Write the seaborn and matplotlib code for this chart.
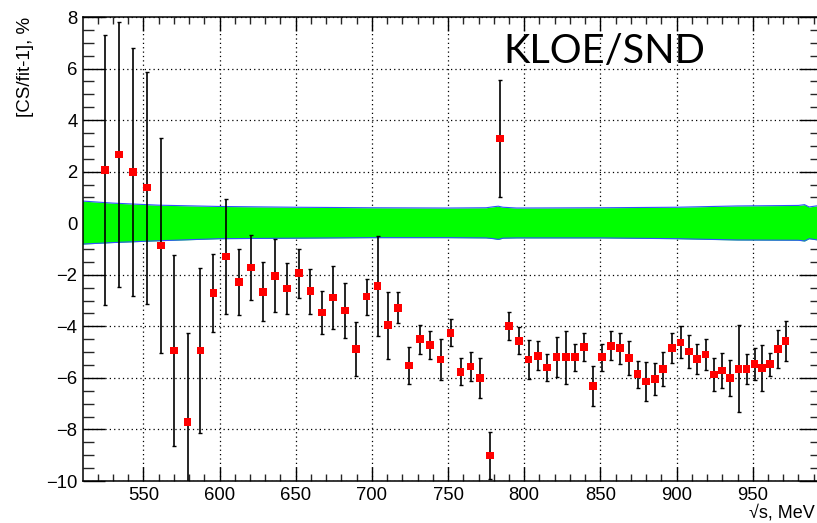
import numpy as np
import pandas as pd
import matplotlib
matplotlib.use("Agg")
import matplotlib.pyplot as plt
import seaborn as sns
from matplotlib.ticker import MultipleLocator

# ---- data ----
energy = [524.9, 534.1, 543.4, 552.4, 561.4, 570.1, 579.1, 587.4, 596.0, 604.1,
          612.6, 620.5, 628.7, 636.6, 644.3, 652.2, 659.6, 667.1, 674.3, 682.2,
          689.4, 696.6, 703.8, 710.4, 717.3, 724.5, 731.6, 738.3, 745.1, 751.7,
          758.3, 764.8, 771.1, 777.7, 784.3, 790.2, 796.5, 802.9, 809.0, 815.1,
          821.3, 827.4, 833.5, 839.4, 845.3, 851.2, 857.1, 863.0, 868.7, 874.4,
          880.0, 885.8, 891.2, 896.9, 902.6, 908.1, 913.5, 919.0, 924.5, 929.7,
          935.2, 940.7, 946.0, 951.2, 956.2, 961.4, 966.5, 971.6]
deviation = [2.06, 2.66, 1.99, 1.38, -0.86, -4.94, -7.72, -4.94, -2.71, -1.29,
             -2.27, -1.72, -2.66, -2.04, -2.53, -1.94, -2.64, -3.46, -2.88, -3.39,
             -4.88, -2.85, -2.43, -3.96, -3.28, -5.52, -4.50, -4.72, -5.29, -4.25,
             -5.76, -5.56, -6.01, -9.01, 3.28, -3.98, -4.56, -5.28, -5.14, -5.59,
             -5.19, -5.20, -5.20, -4.80, -6.31, -5.20, -4.76, -4.85, -5.23, -5.86,
             -6.14, -6.04, -5.65, -4.84, -4.62, -4.98, -5.27, -5.10, -5.87, -5.72,
             -6.00, -5.65, -5.66, -5.47, -5.61, -5.47, -4.88, -4.58]
error = [5.25, 5.15, 4.80, 4.50, 4.18, 3.70, 3.46, 3.20, 1.50, 2.24,
         1.28, 1.27, 1.15, 1.42, 0.98, 0.95, 0.87, 0.85, 1.23, 1.06,
         1.06, 0.70, 1.93, 1.31, 0.60, 0.72, 0.56, 0.55, 0.79, 0.52,
         0.53, 0.56, 0.77, 0.90, 2.28, 0.55, 0.53, 0.75, 0.56, 0.52,
         0.78, 1.03, 0.53, 0.55, 0.77, 0.52, 0.56, 0.60, 0.66, 0.53,
         0.77, 0.62, 0.65, 0.58, 0.62, 0.63, 0.57, 0.60, 0.65, 0.67,
         0.71, 1.69, 0.59, 0.63, 0.88, 0.45, 0.73, 0.77]

band_x = [510, 530, 560, 600, 650, 700, 750, 775, 780, 783, 786, 795,
          850, 900, 940, 980, 984, 987, 995]
band_hi = [0.86, 0.78, 0.70, 0.65, 0.62, 0.60, 0.59, 0.60, 0.64, 0.66, 0.62, 0.59,
           0.60, 0.62, 0.67, 0.69, 0.72, 0.63, 0.70]
band_lo = [-0.81, -0.75, -0.68, -0.60, -0.58, -0.56, -0.56, -0.57, -0.60, -0.63, -0.58, -0.57,
           -0.57, -0.60, -0.65, -0.66, -0.69, -0.60, -0.67]

xticks = [550, 600, 650, 700, 750, 800, 850, 900, 950]
yticks = [-10, -8, -6, -4, -2, 0, 2, 4, 6, 8]

df = pd.DataFrame({"E": energy, "dev": deviation, "err": error})
band = pd.DataFrame({"E": band_x, "hi": band_hi, "lo": band_lo})

sns.set_theme(style="white")
plt.rcParams["font.family"] = ["Liberation Sans", "DejaVu Sans"]

W, H = 817, 523
fig = plt.figure(figsize=(W / 100, H / 100), dpi=100)
left_px, right_px, top_px, bot_px = 83, 821, 17, 481
ax = fig.add_axes([left_px / W, 1 - bot_px / H, (right_px - left_px) / W, (bot_px - top_px) / H])

# band
ax.fill_between(band["E"], band["lo"], band["hi"], color="#00ff00", lw=0, zorder=1)
sns.lineplot(data=band, x="E", y="hi", ax=ax, color="#3050ff", lw=0.8, zorder=1.5)
sns.lineplot(data=band, x="E", y="lo", ax=ax, color="#3050ff", lw=0.8, zorder=1.5)

# data
ax.errorbar(df["E"], df["dev"], yerr=df["err"], fmt="none", ecolor="black",
            elinewidth=1.2, capsize=1.5, capthick=1.0, zorder=2)
sns.scatterplot(data=df, x="E", y="dev", ax=ax, marker="s", color="#ff0000",
                s=30, edgecolor="none", linewidth=0, zorder=3)

ax.set_xlim(510.4, 994.8)
ax.set_ylim(-10, 8)
ax.set_xticks(xticks)
ax.set_yticks(yticks)
ax.xaxis.set_minor_locator(MultipleLocator(10))
ax.yaxis.set_minor_locator(MultipleLocator(0.5))
ax.grid(True, which="major", color="black", linestyle=(0, (1, 2.5)), lw=0.9, zorder=0)
ax.set_axisbelow(True)

for s in ax.spines.values():
    s.set_color("black")
    s.set_linewidth(1.1)
    s.set_visible(True)

ax.tick_params(axis="x", which="major", direction="in", length=10, width=1.0,
               top=True, bottom=True, labelsize=13.3, pad=4, colors="black")
ax.tick_params(axis="x", which="minor", direction="in", length=5, width=1.0,
               top=True, bottom=True)
ax.tick_params(axis="y", which="major", direction="in", length=15.8, width=1.0,
               left=True, right=True, labelsize=13.3, pad=4, colors="black")
ax.tick_params(axis="y", which="minor", direction="in", length=7.9, width=1.0,
               left=True, right=True)

ax.set_xlabel("")
ax.set_ylabel("")
fig.text(25 / W, 1 - 17 / H, "[CS/fit-1], %", rotation=90, ha="center", va="top",
         fontsize=13.5, color="black")
fig.text(815 / W, 1 - 513 / H, "√s, MeV", ha="right", va="center",
         fontsize=13, color="black")
fig.text(503 / W, 1 - 63 / H, "KLOE/SND", ha="left", va="baseline",
         fontsize=28.7, family=["Lato", "DejaVu Sans"], color="black")

fig.savefig("out.png", dpi=100)
